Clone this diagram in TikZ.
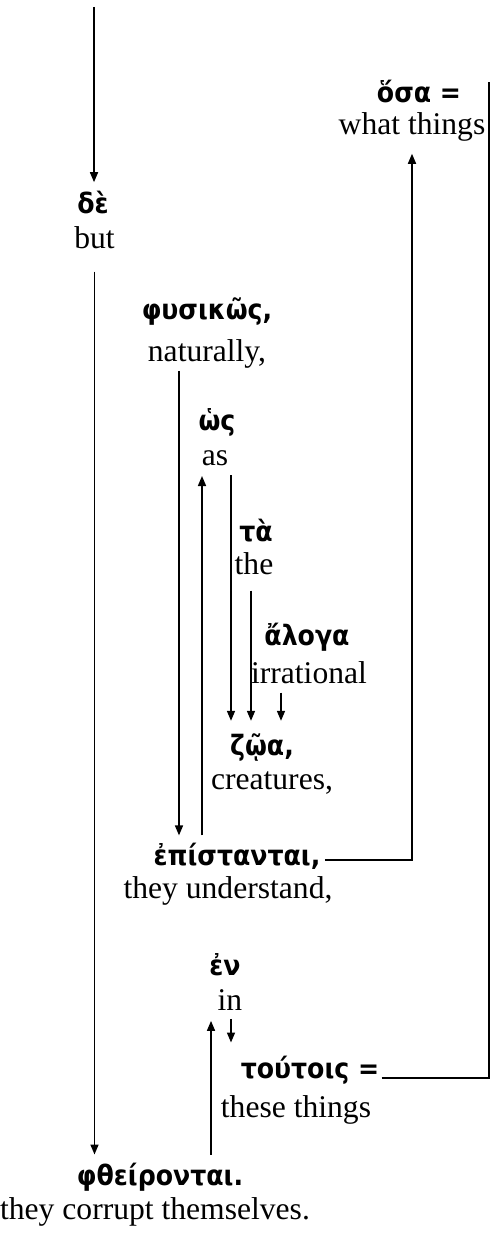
\documentclass[tikz,border=0pt]{standalone}
\usepackage{fontspec}
\setmainfont{Liberation Serif}
\newfontfamily\grkfont{DejaVu Sans Condensed}
\usepackage{tikz}
\usetikzlibrary{arrows.meta,positioning,calc}
\tikzset{
	greek/.style={inner sep=0pt, font=\grkfont\bfseries\fontsize{14}{16}\selectfont},
	gloss/.style={inner sep=0pt, font=\fontsize{15.8}{18}\selectfont},
	arrow/.style={-{Triangle[length=5pt,width=4pt]}, line width=0.8pt},
	link/.style={line width=0.8pt}
}
\begin{document}
\begin{tikzpicture}[x=0.5pt, y=-0.5pt]
	\useasboundingbox (0,0) rectangle (491,1236);
	
	%% -- Word column: greek over gloss
	\node[greek] (de)   at (93,203)  {δὲ};
	\node[gloss] (deE)  at (94.5,238) {but};
	
	\node[greek] (osa)  at (419,92)  {ὅσα =};
	\node[gloss] (osaE) at (412,127) {what things};
	
	\node[greek] (fus)  at (207,312) {φυσικῶς,};
	\node[gloss] (fusE) at (207,354) {naturally,};
	
	\node[greek] (ws)   at (217,422) {ὡς};
	\node[gloss] (wsE)  at (215,458) {as};
	
	\node[greek] (ta)   at (256,531) {τὰ};
	\node[gloss] (taE)  at (254,564) {the};
	
	\node[greek] (alo)  at (307,637) {ἄλογα};
	\node[gloss] (aloE) at (309,673) {irrational};
	
	\node[greek] (zoa)  at (262,748) {ζῷα,};
	\node[gloss] (zoaE) at (272,783) {creatures,};
	
	\node[greek] (epi)  at (237,856) {ἐπίστανται,};
	\node[gloss] (epiE) at (228,891) {they understand,};
	
	\node[greek] (en)   at (225,965) {ἐν};
	\node[gloss] (enE)  at (230,1000) {in};
	
	\node[greek] (tout)  at (310,1070) {τούτοις =};
	\node[gloss] (toutE) at (296,1110) {these things};
	
	\node[greek] (phth)  at (160,1177) {φθείρονται.};
	\node[gloss] (phthE) at (155,1212) {they corrupt themselves.};
	
	%% -- Free ends
	\coordinate (topend) at (94,7);
	\coordinate (rgtend) at (489,82);
	
	%% -- Main line
	\draw[arrow] (topend) -- ([yshift=4.5pt]topend |- de.north);
	\draw[arrow] ([yshift=-11pt]deE.south) -- ([yshift=4pt]deE.south |- phth.north);
	
	%% -- Modifiers of the verb
	\draw[arrow] ([xshift=-14pt,yshift=-1pt]fusE.south) -- ([xshift=-14pt,yshift=3.5pt]fusE.south |- epi.north);
	\draw[arrow] ([xshift=-17.5pt,yshift=3.5pt]epi.north) -- ([xshift=-17.5pt,yshift=-5pt]epi.north |- wsE.south);
	\draw[arrow] ([xshift=8pt,yshift=-4.5pt]wsE.south) -- ([xshift=8pt,yshift=6.5pt]wsE.south |- zoa.north);
	\draw[arrow] ([xshift=-1.5pt,yshift=-7.5pt]taE.south) -- ([xshift=-1.5pt,yshift=6.5pt]taE.south |- zoa.north);
	\draw[arrow] ([xshift=-14pt,yshift=-4pt]aloE.south) -- ([xshift=-14pt,yshift=6.5pt]aloE.south |- zoa.north);
	
	%% -- Object clause up to its head
	\draw[arrow] ([xshift=2pt,yshift=-2pt]epi.east) -| ([yshift=-6pt]osaE.south);
	
	%% -- Prepositional phrase
	\draw[arrow] ([xshift=25.5pt,yshift=4pt]phth.north) -- ([xshift=25.5pt,yshift=-5pt]phth.north |- enE.south);
	\draw[arrow] ([xshift=0.5pt,yshift=-4pt]enE.south) -- ([xshift=0.5pt,yshift=6.5pt]enE.south |- tout.north);
	
	%% -- Same referent
	\draw[link] ([xshift=1pt,yshift=-4pt]tout.east) -| (rgtend);
	
\end{tikzpicture}
\end{document}
